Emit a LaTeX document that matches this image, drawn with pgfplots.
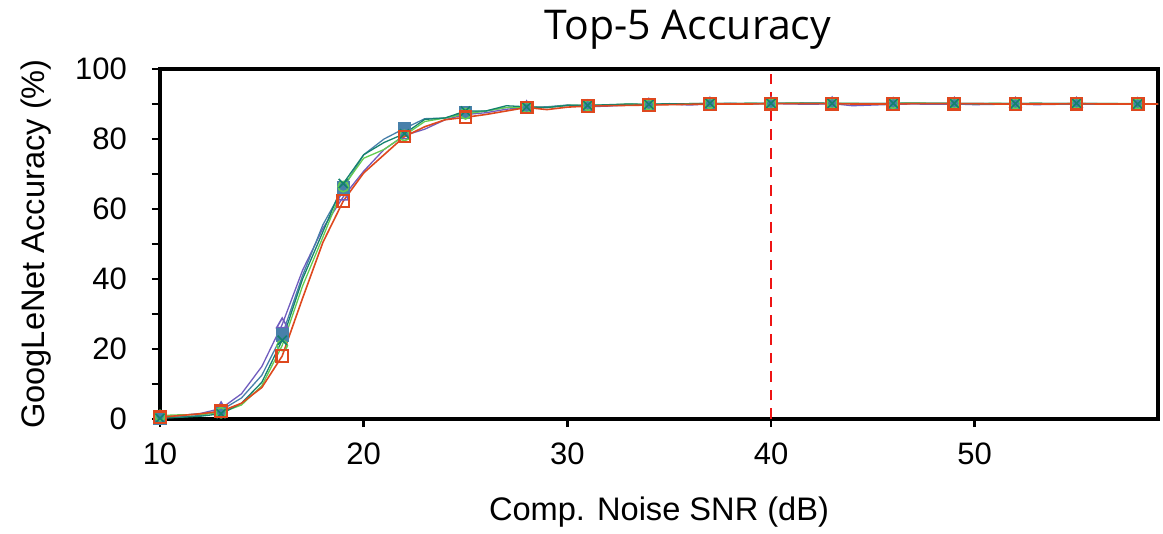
\documentclass[border=0pt]{standalone}
\usepackage{fontspec}
\setmainfont{Liberation Sans}
\newfontfamily\titlefont{Open Sans}
\usepackage{pgfplots}
\usepackage{pgfplotstable}
\pgfplotsset{compat=1.18}

\definecolor{cpurple}{RGB}{112,92,190}
\definecolor{cblue}{RGB}{72,128,170}
\definecolor{cgreen}{RGB}{100,205,80}
\definecolor{cteal}{RGB}{20,130,110}
\definecolor{cred}{RGB}{222,72,30}
\definecolor{cdash}{RGB}{238,20,20}

% columns: SNR, purple, blue, green, teal, red
\pgfplotstableread{
x    p     b     g     t     r
10  0.5   0.3   1.0   0.2   0.5
11  1.0   0.6   1.2   0.5   1.0
12  1.6   1.0   1.3   0.8   1.5
13  3.0   2.5   1.8   1.5   2.2
14  7.2   6.0   4.0   4.5   4.5
15 15.0  12.5   9.5  10.5   9.0
16 27.0  24.0  21.0  22.5  18.0
17 42.5  41.0  38.0  40.0  34.5
18 54.5  55.5  52.0  53.5  50.5
19 63.5  66.0  66.4  67.3  62.3
20 70.8  75.5  74.5  75.5  70.3
21 77.0  80.0  77.0  79.0  75.5
22 81.0  83.0  81.0  81.5  80.7
23 82.8  85.8  85.0  85.6  83.5
24 85.5  86.0  86.0  86.0  85.5
25 87.0  87.5  87.2  88.0  86.2
26 87.5  88.0  88.0  88.0  87.0
27 88.5  89.0  89.0  89.5  88.0
28 89.0  89.0  89.0  89.2  89.0
29 89.0  89.2  89.0  89.0  88.4
30 89.6  89.7  89.6  89.6  89.1
31 89.2  89.5  89.6  89.6  89.4
32 89.4  89.7  89.7  89.8  89.5
33 89.7  89.8  90.0  90.0  89.6
34 89.7  89.9  89.8  89.9  89.7
35 90.0  90.0  90.0  90.1  89.8
36 89.7  90.1  90.1  90.0  89.9
37 90.0  90.1  90.2  90.2  90.0
38 90.1  90.2  90.1  90.1  90.0
39 90.0  90.1  90.2  90.2  90.0
40 90.1  90.2  90.1  90.2  90.1
41 90.0  90.2  90.3  90.2  90.1
42 89.9  90.1  90.2  90.3  90.1
43 90.1  90.2  90.2  90.2  90.1
44 89.5  90.1  90.2  90.1  90.0
45 89.7  90.1  90.1  90.1  90.0
46 89.9  90.2  90.2  90.2  90.0
47 90.0  90.2  90.3  90.2  90.1
48 89.9  90.1  90.2  90.2  90.1
49 90.0  90.2  90.2  90.2  90.1
50 89.8  90.1  90.1  90.1  90.1
51 89.9  90.1  90.2  90.1  90.0
52 90.0  90.1  90.1  90.1  90.0
53 89.8  90.1  90.2  90.2  90.0
54 89.9  90.1  90.1  90.1  90.0
55 90.0  90.1  90.2  90.2  90.1
56 89.9  90.1  90.1  90.1  90.0
57 89.9  90.0  90.1  90.1  90.0
58 89.9  90.0  90.1  90.0  90.0
59 89.9  90.0  90.0  90.0  90.0
}\acc

\begin{document}
\begin{tikzpicture}
\begin{axis}[
    scale only axis,
    width=499pt, height=175pt,
    xmin=10, xmax=59, ymin=0, ymax=100,
    xtick={10,20,...,50},
    ytick={0,10,...,100},
    yticklabels={0,,20,,40,,60,,80,,100},
    tick align=outside,
    xtick pos=bottom, ytick pos=left,
    major tick length=4pt,
    tick style={line width=1.3pt, black},
    axis line style={line width=1.8pt},
    /pgf/number format/assume math mode=true,
    ticklabel style={font=\fontsize{15.5}{17}\selectfont},
    xticklabel style={yshift=-4.5pt},
    yticklabel style={xshift=-9pt},
    xlabel={Comp. Noise SNR (dB)},
    ylabel={GoogLeNet Accuracy (\%)},
    label style={font=\fontsize{16.3}{18}\selectfont},
    xlabel style={at={(axis description cs:0.5,-0.266)}, anchor=center},
    ylabel style={at={(axis description cs:-0.124,0.5)}, anchor=center},
    title={Top-5 Accuracy},
    title style={font=\titlefont\fontsize{20.5}{22}\selectfont,
                 at={(axis description cs:0.529,1.077)}, anchor=center},
    clip=false,
    mark repeat=3, mark phase=1,
    every axis plot/.append style={line width=0.65pt},
    mark options={solid, line width=0.8pt},
]
\addplot[cdash, dash pattern=on 5.3pt off 4pt, line width=1.3pt] coordinates {(40,0) (40,100)};
\addplot[cpurple, mark=triangle, mark size=3.2pt] table[x=x, y=p] {\acc};
\addplot[cblue, mark=square*, mark size=2.9pt] table[x=x, y=b] {\acc};
\addplot[cgreen, mark=o, mark size=2.6pt] table[x=x, y=g] {\acc};
\addplot[cteal, mark=x, mark size=3.2pt] table[x=x, y=t] {\acc};
\addplot[cred, mark=square, mark size=2.9pt, line width=0.8pt,
    mark options={solid, line width=1.1pt}] table[x=x, y=r] {\acc};
\end{axis}
\path ([xshift=-80pt,yshift=-56.5pt]current axis.south west)
    rectangle ([xshift=2.5pt,yshift=34.5pt]current axis.north east);
\end{tikzpicture}
\end{document}
